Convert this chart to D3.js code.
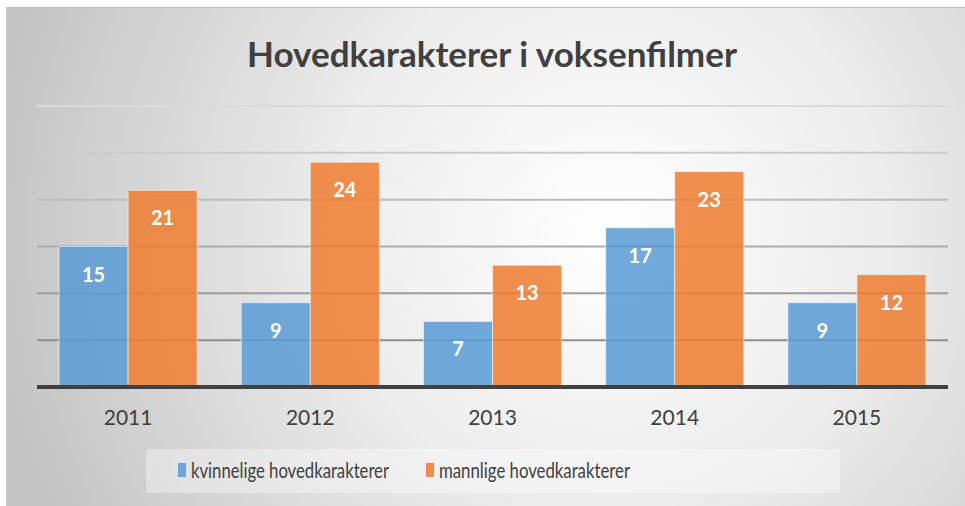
<!DOCTYPE html>
<html>
<head>
<meta charset="utf-8">
<script src="https://cdn.jsdelivr.net/npm/d3@7"></script>
<style>
  body { margin: 0; background: #fff; }
  text { font-family: Lato, "Open Sans", sans-serif; }
</style>
</head>
<body>
<div id="canvas"></div>
<script>
const years = ["2011", "2012", "2013", "2014", "2015"];
const seriesNames = ["kvinnelige hovedkarakterer", "mannlige hovedkarakterer"];
const kvinnelige = [15, 9, 7, 17, 9];
const mannlige = [21, 24, 13, 23, 12];
const gridTicks = [5, 10, 15, 20, 25, 30];
const colors = ["#5b9bd5", "#ed7d31"];

const width = 965;
const height = 506;

const svg = d3.select("#canvas").append("svg")
    .attr("width", width)
    .attr("height", height);

const defs = svg.append("defs");
const bg = defs.append("radialGradient")
    .attr("id", "bg")
    .attr("gradientUnits", "userSpaceOnUse")
    .attr("cx", 610).attr("cy", 230).attr("r", 620);
bg.append("stop").attr("offset", "0%").attr("stop-color", "#ffffff");
bg.append("stop").attr("offset", "45%").attr("stop-color", "#ececec");
bg.append("stop").attr("offset", "100%").attr("stop-color", "#c4c4c4");

// chart area
svg.append("rect")
    .attr("x", 6).attr("y", 7)
    .attr("width", width - 6).attr("height", height - 7)
    .attr("fill", "url(#bg)");
svg.append("line")
    .attr("x1", 6).attr("x2", width).attr("y1", 7.5).attr("y2", 7.5)
    .attr("stroke", "#bdbdbd").attr("stroke-width", 1);

// title
svg.append("text")
    .attr("x", 492).attr("y", 67)
    .attr("text-anchor", "middle")
    .attr("font-size", 34)
    .attr("font-weight", "bold")
    .attr("fill", "#404040")
    .attr("textLength", 490)
    .attr("lengthAdjust", "spacingAndGlyphs")
    .text("Hovedkarakterer i voksenfilmer");

const x0 = d3.scaleBand().domain(years).range([37, 948]).padding(0);
const x1 = d3.scaleBand().domain([0, 1]).range([0, x0.bandwidth()])
    .paddingInner(0).paddingOuter(0.32);
const y = d3.scaleLinear().domain([0, 30]).range([387, 106]);

// gridlines (lighter towards the top)
const gridColor = d3.scaleLinear().domain([5, 30]).range(["#8e8e8e", "#dadada"]);
svg.append("g").selectAll("line")
    .data(gridTicks)
    .enter().append("line")
    .attr("x1", 37).attr("x2", 948)
    .attr("y1", d => y(d)).attr("y2", d => y(d))
    .attr("stroke", d => gridColor(d))
    .attr("stroke-width", 2);

const rows = years.map((yr, i) => ({year: yr, values: [kvinnelige[i], mannlige[i]]}));

const groups = svg.append("g").selectAll("g")
    .data(rows)
    .enter().append("g")
    .attr("transform", d => `translate(${x0(d.year)},0)`);

groups.selectAll("rect")
    .data(d => d.values.map((v, s) => ({v, s})))
    .enter().append("rect")
    .attr("x", d => x1(d.s))
    .attr("y", d => y(d.v))
    .attr("width", x1.bandwidth())
    .attr("height", d => y(0) - y(d.v))
    .attr("fill", d => colors[d.s])
    .attr("fill-opacity", 0.86)
    .attr("stroke", "rgba(255,255,255,0.55)")
    .attr("stroke-width", 1);

groups.selectAll("text")
    .data(d => d.values.map((v, s) => ({v, s})))
    .enter().append("text")
    .attr("x", d => x1(d.s) + x1.bandwidth() / 2)
    .attr("y", d => y(d.v) + 35)
    .attr("text-anchor", "middle")
    .attr("font-size", 20)
    .attr("font-weight", "bold")
    .attr("fill", "#ffffff")
    .text(d => d.v);

// baseline
svg.append("line")
    .attr("x1", 37).attr("x2", 948)
    .attr("y1", y(0)).attr("y2", y(0))
    .attr("stroke", "#404040")
    .attr("stroke-width", 4);

// category labels
const xAxis = svg.append("g")
    .attr("transform", `translate(0,${y(0)})`)
    .call(d3.axisBottom(x0).tickSize(0).tickPadding(23));
xAxis.select(".domain").remove();
xAxis.selectAll("text")
    .attr("font-size", 21)
    .attr("fill", "#404040")
    .style("font-family", "Lato, 'Open Sans', sans-serif");

// legend
svg.append("rect")
    .attr("x", 146).attr("y", 449)
    .attr("width", 694).attr("height", 44)
    .attr("fill", "#ffffff").attr("fill-opacity", 0.35);

const legendX = [178, 426];
const legendW = [198, 191];
const legend = svg.append("g").selectAll("g")
    .data(seriesNames)
    .enter().append("g")
    .attr("transform", (d, i) => `translate(${legendX[i]},0)`);
legend.append("rect")
    .attr("x", 0).attr("y", 463)
    .attr("width", 8).attr("height", 14)
    .attr("fill", (d, i) => colors[i])
    .attr("fill-opacity", 0.86);
legend.append("text")
    .attr("x", 13).attr("y", 478)
    .attr("font-size", 21)
    .attr("fill", "#404040")
    .attr("textLength", (d, i) => legendW[i])
    .attr("lengthAdjust", "spacingAndGlyphs")
    .text(d => d);
</script>
</body>
</html>
